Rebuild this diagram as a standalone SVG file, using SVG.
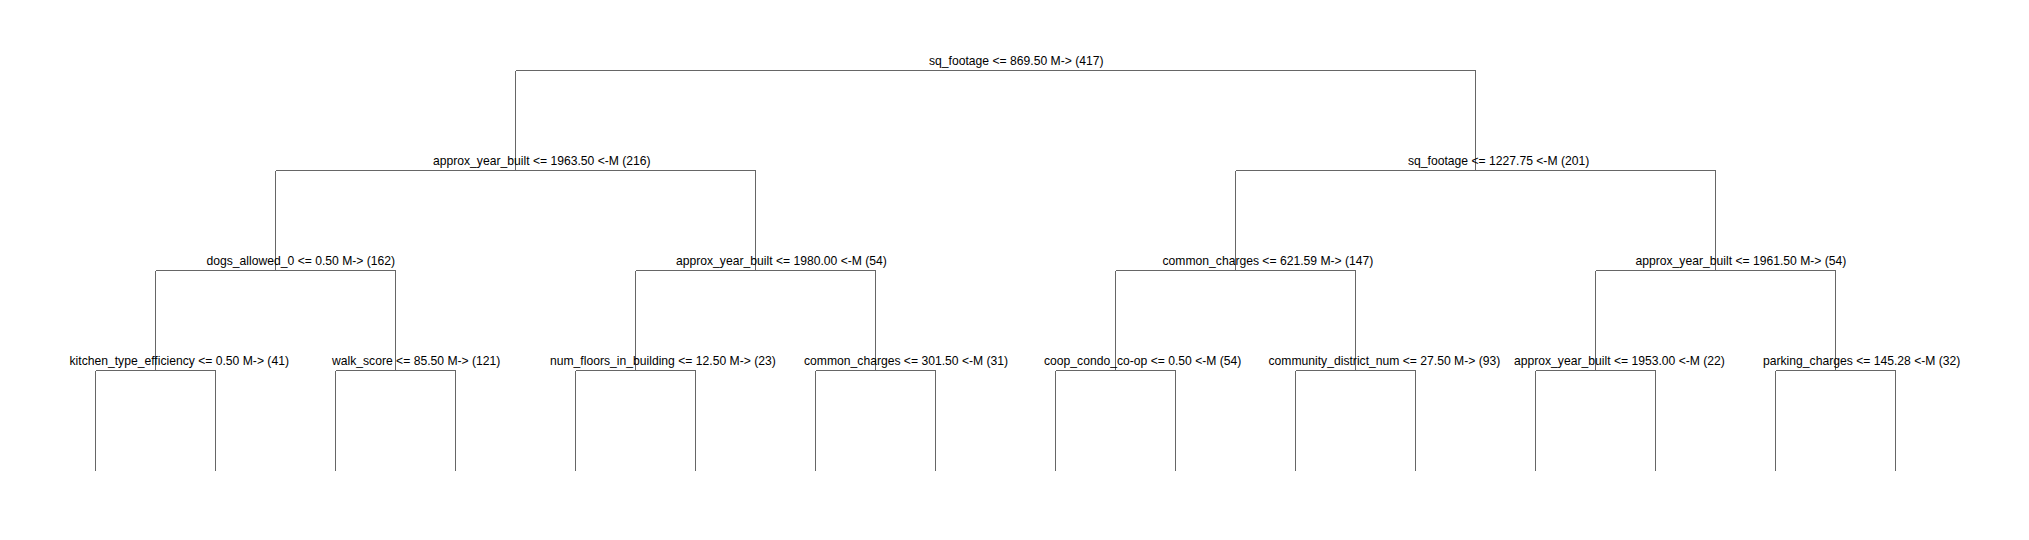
<svg xmlns="http://www.w3.org/2000/svg" width="2029" height="540" viewBox="0 0 2029 540">
<style>
.e{stroke:#666;stroke-width:1;fill:none;shape-rendering:crispEdges}
text{font-family:"Liberation Sans",Arial,sans-serif;font-size:12.15px;fill:#000}
</style>
<rect width="2029" height="540" fill="#fff"/>
<g id="connectors" class="e">
<path d="M515.5 70.5H1475.5M515.5 70.5V170.5M1475.5 70.5V170.5"/>
<path d="M275.5 170.5H755.5M275.5 170.5V270.5M755.5 170.5V270.5"/>
<path d="M1235.5 170.5H1715.5M1235.5 170.5V270.5M1715.5 170.5V270.5"/>
<path d="M155.5 270.5H395.5M155.5 270.5V370.5M395.5 270.5V370.5"/>
<path d="M635.5 270.5H875.5M635.5 270.5V370.5M875.5 270.5V370.5"/>
<path d="M1115.5 270.5H1355.5M1115.5 270.5V370.5M1355.5 270.5V370.5"/>
<path d="M1595.5 270.5H1835.5M1595.5 270.5V370.5M1835.5 270.5V370.5"/>
<path d="M95.5 370.5H215.5M95.5 370.5V470.5M215.5 370.5V470.5"/>
<path d="M335.5 370.5H455.5M335.5 370.5V470.5M455.5 370.5V470.5"/>
<path d="M575.5 370.5H695.5M575.5 370.5V470.5M695.5 370.5V470.5"/>
<path d="M815.5 370.5H935.5M815.5 370.5V470.5M935.5 370.5V470.5"/>
<path d="M1055.5 370.5H1175.5M1055.5 370.5V470.5M1175.5 370.5V470.5"/>
<path d="M1295.5 370.5H1415.5M1295.5 370.5V470.5M1415.5 370.5V470.5"/>
<path d="M1535.5 370.5H1655.5M1535.5 370.5V470.5M1655.5 370.5V470.5"/>
<path d="M1775.5 370.5H1895.5M1775.5 370.5V470.5M1895.5 370.5V470.5"/>
</g>
<g id="n0"><text x="929" y="65">sq_footage &lt;= 869.50 M-&gt; (417)</text></g>
<g id="n1"><text x="433" y="165">approx_year_built &lt;= 1963.50 &lt;-M (216)</text></g>
<g id="n2"><text x="1408" y="165">sq_footage &lt;= 1227.75 &lt;-M (201)</text></g>
<g id="n3"><text x="206.5" y="265">dogs_allowed_0 &lt;= 0.50 M-&gt; (162)</text></g>
<g id="n4"><text x="676" y="265">approx_year_built &lt;= 1980.00 &lt;-M (54)</text></g>
<g id="n5"><text x="1162.5" y="265">common_charges &lt;= 621.59 M-&gt; (147)</text></g>
<g id="n6"><text x="1635.5" y="265">approx_year_built &lt;= 1961.50 M-&gt; (54)</text></g>
<g id="n7"><text x="69.5" y="365">kitchen_type_efficiency &lt;= 0.50 M-&gt; (41)</text></g>
<g id="n8"><text x="332" y="365">walk_score &lt;= 85.50 M-&gt; (121)</text></g>
<g id="n9"><text x="550" y="365">num_floors_in_building &lt;= 12.50 M-&gt; (23)</text></g>
<g id="n10"><text x="804" y="365">common_charges &lt;= 301.50 &lt;-M (31)</text></g>
<g id="n11"><text x="1044" y="365">coop_condo_co-op &lt;= 0.50 &lt;-M (54)</text></g>
<g id="n12"><text x="1268.5" y="365">community_district_num &lt;= 27.50 M-&gt; (93)</text></g>
<g id="n13"><text x="1514" y="365">approx_year_built &lt;= 1953.00 &lt;-M (22)</text></g>
<g id="n14"><text x="1763" y="365">parking_charges &lt;= 145.28 &lt;-M (32)</text></g>
</svg>
